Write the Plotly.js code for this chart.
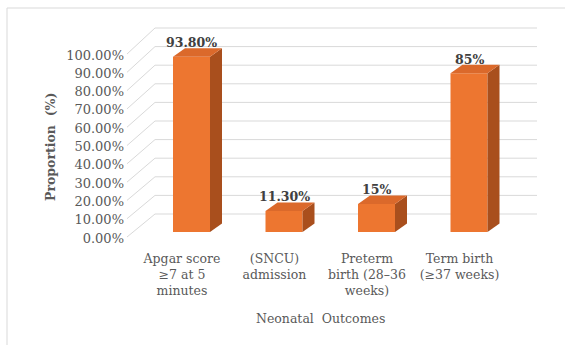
<!DOCTYPE html>
<html>
<head>
<meta charset="utf-8">
<script src="https://cdn.plot.ly/plotly-3.0.1.min.js"></script>
<style>
  html, body { margin: 0; padding: 0; background: #ffffff; }
  #chart { width: 565px; height: 345px; }
</style>
</head>
<body>
<div id="chart"></div>
<script>
// Neonatal outcomes, proportion of births (%)
const categories = [
  'Apgar score<br>≥7 at 5<br>minutes',
  '(SNCU)<br>admission',
  'Preterm<br>birth (28–36<br>weeks)',
  'Term birth<br>(≥37 weeks)'
];
const proportions = [93.8, 11.3, 15, 85];
const valueLabels = ['93.80%', '11.30%', '15%', '85%'];
const tickValues = [0, 10, 20, 30, 40, 50, 60, 70, 80, 90, 100];
const tickLabels = tickValues.map(v => v.toFixed(2) + '%');

// ---- drawing geometry (pixels of the 565 x 345 canvas) ----
const W = 565, H = 345;
const L = 125, R = 540, T = 20, B = 240;
const PW = R - L, PH = B - T;
const px2paperX = px => (px - L) / PW;
const px2paperY = py => (B - py) / PH;

// value axis: 0 sits at y=232 px, 1 % = 1.869 px
const Y0 = 232, PX_PER_PCT = 1.869;
// perspective: the label row and back wall are scaled/shifted copies of the value axis
const labelRow = v => (1.83 * v - (238 - Y0)) / PX_PER_PCT;
const backWall = v => (1.86 * v + (Y0 - 214)) / PX_PER_PCT;

// category axis: first bar centred at x=191.5 px, 92.5 px between bars
const X0 = 191.5, PX_PER_CAT = 92.5;
const catAt = px => (px - X0) / PX_PER_CAT;

// 3-D look
const barWidth = 0.4;                 // in category units
const depthX = 12 / PX_PER_CAT;       // side-face depth, category units
const depthY = 8.5 / PX_PER_PCT;      // side-face rise, value units
const labelShift = -0.103;            // category labels sit slightly left of the bars

const FRONT = '#ED7630';
const SIDE = '#A94F1D';
const TOP = '#DB692B';
const GRID = '#d9d9d9';
const FONT = 'DejaVu Serif, Liberation Serif, serif';

const idx = categories.map((_, i) => i);

const traces = [];
// front faces
traces.push({
  type: 'bar', x: idx, y: proportions, width: barWidth,
  marker: { color: FRONT, line: { width: 0 } },
  hoverinfo: 'skip', showlegend: false
});
// side and top faces
proportions.forEach((v, i) => {
  const xl = i - barWidth / 2, xr = i + barWidth / 2;
  traces.push({
    type: 'scatter', mode: 'lines', fill: 'toself', fillcolor: SIDE,
    x: [xr, xr + depthX, xr + depthX, xr, xr],
    y: [0, depthY, v + depthY, v, 0],
    line: { width: 0, color: SIDE }, hoverinfo: 'skip', showlegend: false
  });
  traces.push({
    type: 'scatter', mode: 'lines', fill: 'toself', fillcolor: TOP,
    x: [xl, xl + depthX, xr + depthX, xr, xl],
    y: [v, v + depthY, v + depthY, v, v],
    line: { width: 0, color: TOP }, hoverinfo: 'skip', showlegend: false
  });
});

// back-wall gridlines and side-wall diagonals
const wallLeft = catAt(155), wallRight = catAt(537), sideStart = catAt(127);
const shapes = [];
tickValues.forEach(v => {
  shapes.push({ type: 'line', layer: 'below', xref: 'x', yref: 'y',
    x0: wallLeft, x1: wallRight, y0: backWall(v), y1: backWall(v),
    line: { color: GRID, width: 1 } });
  shapes.push({ type: 'line', layer: 'below', xref: 'x', yref: 'y',
    x0: sideStart, x1: wallLeft, y0: labelRow(v) + 1 / PX_PER_PCT, y1: backWall(v),
    line: { color: GRID, width: 1 } });
});
// chart area frame
shapes.push({ type: 'rect', xref: 'paper', yref: 'paper',
  x0: px2paperX(7), x1: px2paperX(572), y0: px2paperY(8), y1: px2paperY(352),
  line: { color: '#d9d9d9', width: 1 }, fillcolor: 'rgba(0,0,0,0)' });

// value labels above each bar
const annotations = proportions.map((v, i) => ({
  x: i, y: v + depthY, xref: 'x', yref: 'y', text: valueLabels[i],
  showarrow: false, xanchor: 'center', yanchor: 'bottom', yshift: -4,
  font: { family: FONT, size: 12.5, color: '#404040', weight: 'bold' }
}));
annotations.push({
  xref: 'paper', yref: 'paper', x: px2paperX(50), y: px2paperY(147),
  xanchor: 'center', yanchor: 'middle',
  text: 'Proportion  (%)', textangle: -90, showarrow: false,
  font: { family: FONT, size: 12.5, color: '#595959', weight: 'bold' }
});
annotations.push({
  xref: 'paper', yref: 'paper', x: px2paperX(320), y: px2paperY(318),
  xanchor: 'center', yanchor: 'middle',
  text: 'Neonatal  Outcomes', showarrow: false,
  font: { family: FONT, size: 12.5, color: '#595959' }
});

const layout = {
  width: W, height: H, autosize: false,
  margin: { l: L, r: W - R, t: T, b: H - B, pad: 0 },
  paper_bgcolor: '#ffffff', plot_bgcolor: '#ffffff',
  showlegend: false,
  xaxis: {
    range: [catAt(L), catAt(R)],
    tickmode: 'array', tickvals: idx.map(i => i + labelShift), ticktext: categories,
    showgrid: false, zeroline: false, showline: false, ticks: '',
    ticklabelstandoff: 9,
    tickfont: { family: FONT, size: 12.5, color: '#595959' }, fixedrange: true
  },
  yaxis: {
    range: [(Y0 - B) / PX_PER_PCT, (Y0 - T) / PX_PER_PCT],
    tickmode: 'array', tickvals: tickValues.map(labelRow), ticktext: tickLabels,
    showgrid: false, zeroline: false, showline: false, ticks: '',
    tickfont: { family: FONT, size: 13, color: '#595959' }, fixedrange: true
  },
  shapes: shapes,
  annotations: annotations
};

Plotly.newPlot('chart', traces, layout, { staticPlot: true, displayModeBar: false });
</script>
</body>
</html>
